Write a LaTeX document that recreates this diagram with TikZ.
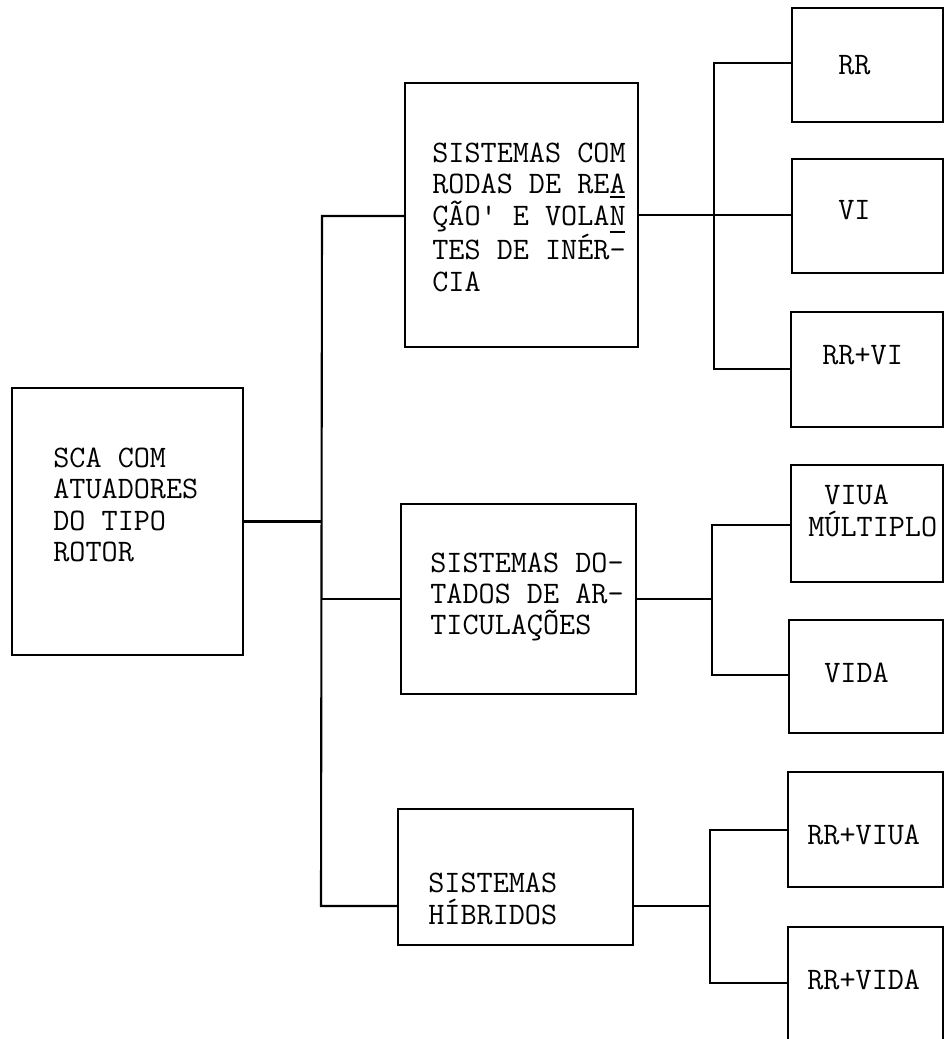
\documentclass[tikz,border=0pt]{standalone}
\usepackage{fontspec}
\usepackage{tikz}
\usetikzlibrary{fit}

\newcommand{\fonteMaquina}{\ttfamily\fontsize{17.8}{17.9}\selectfont}
% letra com traco acima e abaixo (como na maquina de escrever)
\newcommand{\riscada}[1]{\makebox[0pt][l]{\rule[0.86em]{0.5em}{0.06em}}\makebox[0pt][l]{\rule[-0.24em]{0.5em}{0.06em}}#1}

\begin{document}
\begin{tikzpicture}[
        x=0.02cm, y=-0.02cm,
        caixa/.style={draw, line width=1.2pt, inner sep=0pt},
        texto/.style={font=\fonteMaquina, align=left, inner sep=0pt, anchor=west},
        linha/.style={line width=1.2pt}
    ]
        \useasboundingbox (0,0) rectangle (945,1039);
        % caixas
        \node[caixa, fit={(12,388) (243,655)}] (sca) {};
        \node[caixa, fit={(405,83) (638,347)}] (rodas) {};
        \node[caixa, fit={(401,504) (636,694)}] (artic) {};
        \node[caixa, fit={(398,809) (633,945)}] (hibr) {};
        \node[caixa, fit={(792,8) (943,122)}] (rr) {};
        \node[caixa, fit={(792,159) (943,273)}] (vi) {};
        \node[caixa, fit={(791,312) (943,427)}] (rrvi) {};
        \node[caixa, fit={(791,465) (943,582)}] (viua) {};
        \node[caixa, fit={(789,620) (943,733)}] (vida) {};
        \node[caixa, fit={(788,772) (943,887)}] (rrviua) {};
        \node[caixa, fit={(788,927) (943,1060)}] (rrvida) {};
        % textos
        \node[texto] (tsca) at (53,505) {SCA COM\\ATUADORES\\DO TIPO\\ROTOR};
        \node[texto] (trodas) at (432,217) {SISTEMAS COM\\RODAS DE REA\\ÇÃO' E VOLA\riscada{N}\\TES DE INÉR-\\CIA};
        \node[texto] (tartic) at (430,597) {SISTEMAS DO-\\TADOS DE AR-\\TICULAÇÕES};
        \node[texto] (thibr) at (428,899) {SISTEMAS\\HÍBRIDOS};
        \node[texto] (trr) at (838,65) {RR};
        \node[texto] (tvi) at (838,210) {VI};
        \node[texto] (trrvi) at (822,355) {RR+VI};
        \node[texto] (tviua) at (808,511) {~VIUA\\MÚLTIPLO};
        \node[texto] (tvida) at (824,673) {VIDA};
        \node[texto] (trrviua) at (807,835) {RR+VIUA};
        \node[texto] (trrvida) at (807,980) {RR+VIDA};
        % ligacoes
        \coordinate (ja1) at (322,216);
        \coordinate (ja2) at (321,906);
        \coordinate (jb1) at (714,63);
        \coordinate (jb2) at (714,369);
        \coordinate (jc1) at (712,525);
        \coordinate (jc2) at (712,675);
        \coordinate (jd1) at (710,830);
        \coordinate (jd2) at (710,983);
        \draw[linha] (sca.east) -- (sca.east -| ja1);
        \draw[linha] (rodas.west |- ja1) -- (ja1) -- (ja2) -- (hibr.west |- ja2);
        \draw[linha] (artic.west -| ja1) -- (artic.west);
        \draw[linha] (rodas.east) -- (rodas.east -| vi.west);
        \draw[linha] (rr.west |- jb1) -- (jb1) -- (jb2) -- (rrvi.west |- jb2);
        \draw[linha] (artic.east) -- (artic.east -| jc1);
        \draw[linha] (viua.west |- jc1) -- (jc1) -- (jc2) -- (vida.west |- jc2);
        \draw[linha] (hibr.east |- ja2) -- (jd1 |- ja2);
        \draw[linha] (rrviua.west |- jd1) -- (jd1) -- (jd2) -- (rrvida.west |- jd2);
    \end{tikzpicture}
\end{document}
